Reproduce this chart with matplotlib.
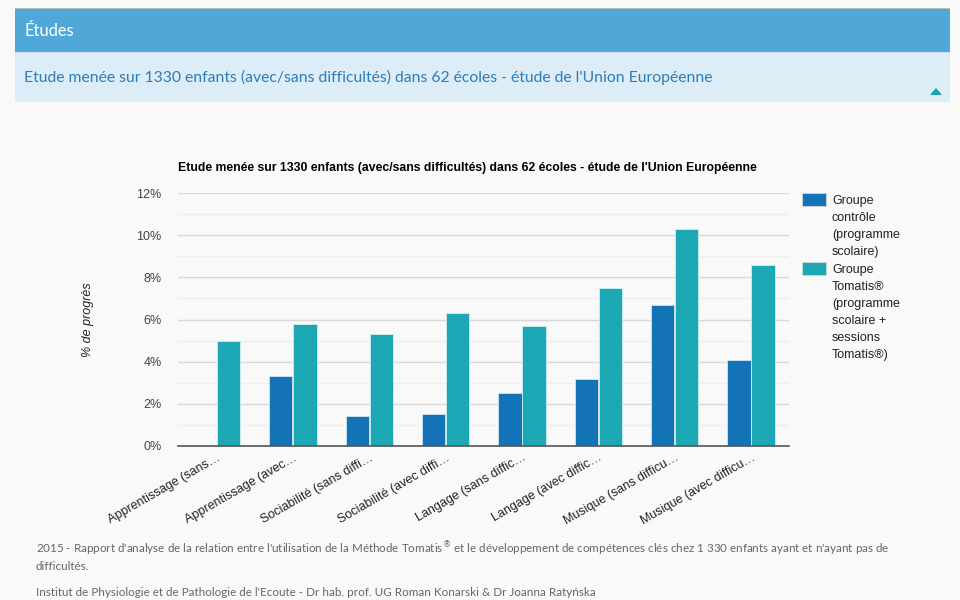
import textwrap
import numpy as np
import matplotlib
matplotlib.use('Agg')
import matplotlib.pyplot as plt
from matplotlib.patches import Rectangle, Polygon
from matplotlib.ticker import MultipleLocator, PercentFormatter

# donnees
categories = ['Apprentissage (sans…', 'Apprentissage (avec…', 'Sociabilité (sans diffi…',
              'Sociabilité (avec diffi…', 'Langage (sans diffic…', 'Langage (avec diffic…',
              'Musique (sans difficu…', 'Musique (avec difficu…']
controle = [0.0, 3.3, 1.4, 1.5, 2.5, 3.2, 6.7, 4.1]
tomatis = [5.0, 5.8, 5.3, 6.3, 5.7, 7.5, 10.3, 8.6]
series_labels = ['Groupe contrôle (programme scolaire)',
                 'Groupe Tomatis® (programme scolaire + sessions Tomatis®)']
yticks = [0, 2, 4, 6, 8, 10, 12]

page_title = 'Études'
sub_title = "Etude menée sur 1330 enfants (avec/sans difficultés) dans 62 écoles - étude de l'Union Européenne"
footer = ["2015 - Rapport d'analyse de la relation entre l'utilisation de la Méthode Tomatis$^{®}$ et le développement de compétences clés chez 1 330 enfants ayant et n'ayant pas de",
          "difficultés.",
          "Institut de Physiologie et de Pathologie de l'Ecoute - Dr hab. prof. UG Roman Konarski & Dr Joanna Ratyńska"]

colors = ['#1373b6', '#1ba8b4']
W, H = 960, 600
bg = '#f9f9f9'


def px(x, y):
    # pixels (origine en haut a gauche) -> coordonnees figure
    return x / W, 1 - y / H


def pt(p):
    return p * 0.72


fig = plt.figure(figsize=(9.6, 6), dpi=100, facecolor=bg)

# bandeau du haut
fig.patches.append(Rectangle(px(15, 52), 935 / W, 44 / H, transform=fig.transFigure,
                             facecolor='#4fa8d8', edgecolor='none'))
fig.patches.append(Rectangle(px(15, 9), 935 / W, 1.5 / H, transform=fig.transFigure,
                             facecolor='#bdbdbd', edgecolor='none'))
fig.patches.append(Rectangle(px(15, 102), 935 / W, 50 / H, transform=fig.transFigure,
                             facecolor='#ddedf8', edgecolor='none'))
fig.patches.append(Rectangle(px(15, 53), 935 / W, 1 / H, transform=fig.transFigure,
                             facecolor='#c4dff2', edgecolor='none'))
fig.patches.append(Polygon([px(930, 95), px(942, 95), px(936, 88)], closed=True,
                           transform=fig.transFigure, facecolor='#1aa3b0', edgecolor='none'))
fig.text(*px(24, 31), page_title, color='white', fontsize=pt(16.5), family='Lato', va='center')
fig.text(*px(24, 77), sub_title, color='#2c7dba', fontsize=pt(15.7), family='Lato', va='center')

# graphique
ax = fig.add_axes([178.3 / W, 154 / H, 611 / W, 253 / H])
ax.set_facecolor(bg)
x = np.arange(len(categories))
bw = 0.305
ax.bar(x - bw / 2 - 0.005, controle, bw, color=colors[0], edgecolor='#cfe6f2', linewidth=0.6, zorder=3)
ax.bar(x + bw / 2 + 0.005, tomatis, bw, color=colors[1], edgecolor='#cfeff2', linewidth=0.6, zorder=3)
ax.set_xlim(-0.5, len(categories) - 0.5)
ax.set_ylim(0, 12)
ax.set_yticks(yticks)
ax.yaxis.set_minor_locator(MultipleLocator(1))
ax.yaxis.set_major_formatter(PercentFormatter(decimals=0))
ax.grid(axis='y', which='major', color='#d9d9d9', linewidth=1, zorder=0)
ax.grid(axis='y', which='minor', color='#eeeeee', linewidth=1, zorder=0)
for s in ['top', 'right', 'left']:
    ax.spines[s].set_visible(False)
ax.spines['bottom'].set_color('#555555')
ax.spines['bottom'].set_linewidth(1.2)
ax.spines['bottom'].set_zorder(4)
ax.tick_params(axis='y', which='both', length=0, pad=12, labelsize=pt(12.5), labelcolor='#444444')
ax.tick_params(axis='x', length=0, pad=4, labelsize=pt(12.5), labelcolor='#222222')
ax.set_xticks(x)
ax.set_xticklabels(categories, rotation=30, ha='right', rotation_mode='anchor',
                   family='Liberation Sans')
for lab in ax.get_yticklabels():
    lab.set_family('Liberation Sans')

fig.text(*px(178, 168), sub_title, fontsize=pt(12.2), weight='bold', family='Liberation Sans',
         color='black', va='center')
fig.text(*px(88, 320), '% de progrès', rotation=90, style='italic', fontsize=pt(12.5),
         family='Liberation Sans', color='#222222', ha='center', va='center')

# legende
leg_y = [193, 262]
for i, lab in enumerate(series_labels):
    fig.patches.append(Rectangle(px(802, leg_y[i] + 13), 24 / W, 13 / H, transform=fig.transFigure,
                                 facecolor=colors[i], edgecolor='#dddddd', linewidth=0.5))
    for j, line in enumerate(textwrap.wrap(lab, 10)):
        fig.text(*px(832, leg_y[i] + 8 + 17 * j), line, fontsize=pt(12.5),
                 family='Liberation Sans', color='#222222', va='center')

# sources
for line, y in zip(footer, [549, 566, 592]):
    fig.text(*px(36, y), line, fontsize=pt(11.6), family='Lato', color='#666666', va='center')

fig.savefig('out.png', dpi=100, facecolor=bg)
